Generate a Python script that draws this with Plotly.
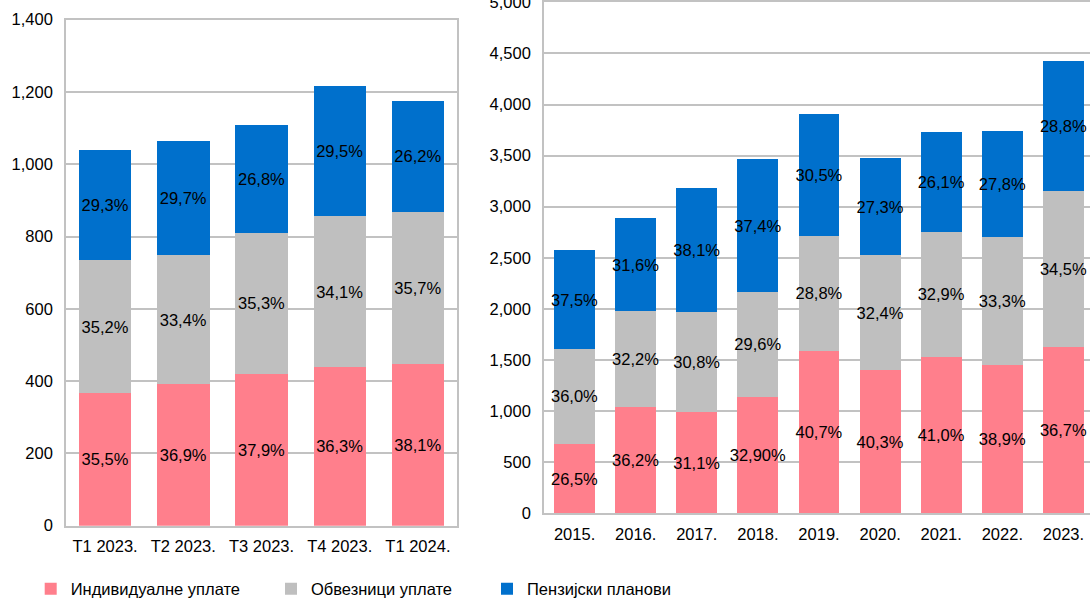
import plotly.graph_objects as go

# ---------------- data ----------------
quarters = ["Т1 2023.", "Т2 2023.", "Т3 2023.", "Т4 2023.", "Т1 2024."]
q_individual = [367, 392, 419, 439, 448]
q_employer = [368, 356, 392, 417, 420]
q_plans = [305, 316, 297, 360, 308]
q_individual_lbl = ["35,5%", "36,9%", "37,9%", "36,3%", "38,1%"]
q_employer_lbl = ["35,2%", "33,4%", "35,3%", "34,1%", "35,7%"]
q_plans_lbl = ["29,3%", "29,7%", "26,8%", "29,5%", "26,2%"]

years = ["2015.", "2016.", "2017.", "2018.", "2019.", "2020.", "2021.", "2022.", "2023."]
y_individual = [680, 1043, 988, 1139, 1590, 1400, 1528, 1454, 1625]
y_employer = [928, 933, 982, 1026, 1126, 1124, 1227, 1245, 1528]
y_plans = [967, 913, 1215, 1298, 1193, 949, 973, 1039, 1275]
y_individual_lbl = ["26,5%", "36,2%", "31,1%", "32,90%", "40,7%", "40,3%", "41,0%", "38,9%", "36,7%"]
y_employer_lbl = ["36,0%", "32,2%", "30,8%", "29,6%", "28,8%", "32,4%", "32,9%", "33,3%", "34,5%"]
y_plans_lbl = ["37,5%", "31,6%", "38,1%", "37,4%", "30,5%", "27,3%", "26,1%", "27,8%", "28,8%"]

series_names = ["Индивидуалне уплате", "Обвезници уплате", "Пензијски планови"]
colors = ["#FF7F8C", "#BFBFBF", "#0070CC"]
legends = ["legend", "legend2", "legend3"]

W, H = 1090, 599
FONT = "Liberation Sans, Arial, sans-serif"
FS = 16.5

fig = go.Figure()

left = [(q_individual, q_individual_lbl), (q_employer, q_employer_lbl), (q_plans, q_plans_lbl)]
right = [(y_individual, y_individual_lbl), (y_employer, y_employer_lbl), (y_plans, y_plans_lbl)]

for i, (vals, lbl) in enumerate(left):
    fig.add_trace(go.Bar(
        x=quarters, y=vals, text=lbl, name=series_names[i],
        marker=dict(color=colors[i], line=dict(width=0)),
        textposition="inside", insidetextanchor="middle", textangle=0,
        textfont=dict(color="black", size=FS, family=FONT),
        xaxis="x", yaxis="y", legend=legends[i], showlegend=True,
        hoverinfo="skip",
    ))
for i, (vals, lbl) in enumerate(right):
    fig.add_trace(go.Bar(
        x=years, y=vals, text=lbl, name=series_names[i],
        marker=dict(color=colors[i], line=dict(width=0)),
        textposition="inside", insidetextanchor="middle", textangle=0,
        textfont=dict(color="black", size=FS, family=FONT),
        xaxis="x2", yaxis="y2", legend=legends[i], showlegend=False,
        hoverinfo="skip",
    ))

grid = "#C2C2C2"
axis_common = dict(
    showline=True, linecolor=grid, linewidth=1.6,
    tickfont=dict(size=FS, color="black", family=FONT),
    ticks="", zeroline=False, fixedrange=True, automargin=False,
    ticklabeloverflow="allow",
)

legend_common = dict(
    orientation="h", yanchor="middle", xanchor="left", y=1 - 589 / H,
    font=dict(size=FS, color="black", family=FONT),
    bgcolor="rgba(0,0,0,0)", borderwidth=0,
)

fig.update_layout(
    width=W, height=H,
    margin=dict(l=0, r=0, t=0, b=0, pad=0, autoexpand=False),
    paper_bgcolor="white", plot_bgcolor="white",
    font=dict(family=FONT, size=FS, color="black"),
    barmode="stack", bargap=0.33,
    uniformtext=dict(minsize=FS, mode="show"),
    xaxis=dict(domain=[66 / W, 457 / W], range=[-0.5, 4.5], anchor="y",
               mirror=True, showgrid=False, ticklabelstandoff=5, **axis_common),
    yaxis=dict(domain=[1 - 525.7 / H, 1 - 19.6 / H], range=[0, 1400], dtick=200,
               tickformat=",", anchor="x", mirror=True, showgrid=True,
               gridcolor=grid, gridwidth=1.6, ticklabelstandoff=8, **axis_common),
    xaxis2=dict(domain=[544 / W, 1.0], range=[-0.5, 8.5 - 4 / 61.1], anchor="y2",
                mirror=True, showgrid=False, ticklabelstandoff=5, **axis_common),
    yaxis2=dict(domain=[1 - 513.3 / H, 1 - 2.3 / H], range=[0, 5000], dtick=500,
                tickformat=",", anchor="x2", mirror=False, showgrid=True,
                gridcolor=grid, gridwidth=1.6, ticklabelstandoff=8, **axis_common),
    legend=dict(x=30.7 / W, **legend_common),
    legend2=dict(x=271 / W, **legend_common),
    legend3=dict(x=487 / W, **legend_common),
)

fig.write_html(
    "out.html",
    config={"displayModeBar": False},
    post_script="document.documentElement.style.margin='0';"
                "document.body.style.margin='0';"
                "document.body.style.overflow='hidden';",
)
